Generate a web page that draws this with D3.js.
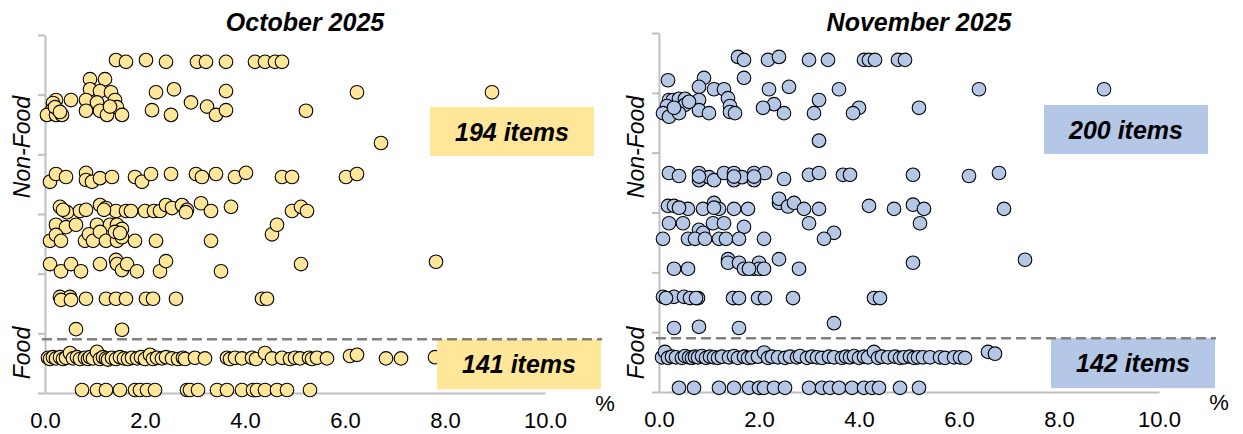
<!DOCTYPE html>
<html>
<head>
<meta charset="utf-8">
<script src="https://cdn.jsdelivr.net/npm/d3@7"></script>
<style>
  body { margin: 0; background: #fff; }
  text { font-family: Arial, "Liberation Sans", sans-serif; }
</style>
</head>
<body>
<svg id="chart" width="1243" height="434"></svg>
<script>
// Data: [inflation %, vertical position on the 0-6 strip axis]
const months = ['October 2025', 'November 2025']
const nonFoodCounts = [194, 200]
const foodCounts = [141, 142]
const xTicks = [0, 2, 4, 6, 8, 10]
const foodSplit = 0.9

const octNonFood = [
  [1.42,5.58],[1.62,5.55],[2.02,5.58],[2.42,5.55],[3.04,5.55],[3.22,5.55],[3.62,5.55],[4.2,5.55],[4.4,5.55],[4.6,5.55],[4.74,5.55],
  [0.9,5.26],[1.2,5.26],[0.9,5.09],[1.1,5.06],[1.32,5.04],[2.22,5.04],[2.58,5.09],[3.62,5.06],[6.24,5.04],[8.94,5.04],
  [0.22,4.91],[0.52,4.91],[0.82,4.91],[1.04,4.87],[1.4,4.91],[1.44,4.79],[0.16,4.86],[0.14,4.74],[0.04,4.66],[0.22,4.66],
  [0.34,4.66],[0.82,4.73],[1.1,4.73],[1.24,4.66],[1.54,4.66],[2.14,4.74],[2.52,4.66],[2.92,4.87],[3.24,4.8],[3.42,4.66],
  [3.62,4.74],[5.22,4.73],[0.2,4.79],[0.3,4.71],[1.3,4.8],
  [6.72,4.19],
  [0.1,3.54],[0.22,3.67],[0.42,3.62],[0.82,3.69],[0.82,3.57],[0.94,3.54],[1.1,3.6],[1.34,3.62],[1.8,3.62],[1.94,3.54],
  [2.12,3.67],[2.52,3.67],[3.02,3.67],[3.14,3.62],[3.42,3.67],[3.8,3.62],[4.02,3.69],[4.74,3.62],[4.94,3.62],[6.02,3.62],[6.24,3.67],
  [0.3,3.12],[0.44,3.03],[0.7,3.05],[0.82,3.07],[1.1,3.15],[1.22,3.1],[1.42,3.05],[1.62,3.05],[1.72,3.05],[2.0,3.05],
  [2.18,3.05],[2.3,3.05],[2.42,3.15],[2.54,3.1],[2.74,3.15],[2.84,3.07],[3.12,3.18],[3.32,3.05],[3.72,3.12],[4.94,3.05],
  [5.12,3.12],[5.24,3.05],[0.36,3.07],[1.18,3.07],[2.82,3.03],
  [0.22,2.82],[0.42,2.78],[0.62,2.82],[1.04,2.82],[1.3,2.82],[1.44,2.82],[1.54,2.75],[0.1,2.55],[0.22,2.65],[0.32,2.55],
  [0.8,2.55],[0.88,2.66],[0.96,2.55],[1.1,2.7],[1.22,2.55],[1.44,2.55],[1.54,2.61],[1.8,2.55],[2.22,2.55],[3.32,2.55],
  [4.54,2.66],[4.64,2.82],[1.4,2.7],[1.5,2.68],
  [0.1,2.16],[0.32,2.04],[0.52,2.16],[0.72,2.04],[1.1,2.16],[1.42,2.23],[1.44,2.16],[1.54,2.06],[1.64,2.16],[1.84,2.04],
  [2.3,2.04],[2.42,2.21],[3.52,2.04],[5.12,2.16],[7.82,2.2],
  [0.3,1.61],[0.5,1.61],[0.32,1.56],[0.52,1.56],[0.82,1.58],[1.22,1.58],[1.42,1.58],[1.62,1.58],[2.02,1.58],[2.16,1.58],
  [2.62,1.58],[4.34,1.58],[4.44,1.58],
  [0.62,1.07],[1.54,1.06]
]

const octFood = [
  [0.06,0.59],[0.1,0.57],[0.16,0.6],[0.22,0.58],[0.3,0.6],[0.36,0.57],[0.42,0.59],[0.5,0.67],[0.56,0.58],[0.64,0.6],
  [0.7,0.57],[0.8,0.59],[0.86,0.57],[0.9,0.6],[0.96,0.58],[1.04,0.69],[1.1,0.57],[1.16,0.6],[1.22,0.58],[1.26,0.56],
  [1.34,0.59],[1.42,0.57],[1.5,0.6],[1.58,0.58],[1.66,0.57],[1.74,0.59],[1.84,0.58],[1.92,0.6],[2.0,0.57],[2.1,0.64],
  [2.16,0.57],[2.24,0.59],[2.34,0.58],[2.42,0.6],[2.54,0.58],[2.66,0.57],[2.76,0.59],[2.8,0.57],[3.0,0.59],[3.2,0.58],
  [3.64,0.59],[3.7,0.57],[3.8,0.59],[3.94,0.58],[4.14,0.59],[4.22,0.57],[4.4,0.67],[4.54,0.58],[4.74,0.59],[4.9,0.57],
  [5.0,0.59],[5.1,0.58],[5.28,0.59],[5.34,0.57],[5.44,0.59],[5.64,0.58],[6.1,0.62],[6.24,0.64],[6.82,0.58],[7.12,0.58],[7.8,0.6],
  [0.74,0.05],[1.04,0.05],[1.22,0.05],[1.5,0.05],[1.8,0.05],[1.9,0.05],[2.04,0.05],[2.2,0.05],[2.84,0.05],[2.9,0.05],
  [3.06,0.05],[3.44,0.05],[3.64,0.05],[3.94,0.05],[4.16,0.05],[4.24,0.05],[4.4,0.05],[4.64,0.05],[4.84,0.05],[5.3,0.05]
]

const novNonFood = [
  [1.58,5.6],[1.7,5.55],[2.18,5.55],[2.4,5.6],[3.0,5.55],[3.38,5.55],[4.1,5.55],[4.2,5.55],[4.32,5.55],[4.78,5.55],[4.92,5.55],
  [0.18,5.21],[0.9,5.25],[1.7,5.25],[6.4,5.06],[8.9,5.06],[0.8,5.1],[1.1,5.06],[1.3,5.06],[2.2,5.06],[2.6,5.1],[3.6,5.06],
  [0.2,4.88],[0.28,4.88],[0.4,4.9],[0.52,4.9],[0.8,4.88],[1.38,4.91],[3.2,4.88],[2.3,4.81],[0.16,4.78],[0.52,4.8],
  [1.42,4.78],[2.08,4.75],[4.0,4.75],[5.2,4.75],[0.08,4.66],[0.2,4.6],[0.4,4.66],[0.8,4.71],[1.0,4.66],[1.42,4.68],
  [1.52,4.66],[2.5,4.66],[3.1,4.66],[3.88,4.66],[0.3,4.75],[0.6,4.85],
  [3.2,4.2],
  [0.2,3.66],[0.4,3.61],[0.8,3.66],[0.8,3.54],[1.0,3.59],[1.1,3.54],[1.3,3.66],[1.5,3.66],[1.5,3.54],[1.66,3.59],
  [1.9,3.66],[1.9,3.54],[2.12,3.66],[2.5,3.56],[3.0,3.63],[3.2,3.66],[3.68,3.63],[3.82,3.63],[5.08,3.63],[6.2,3.61],
  [6.8,3.66],[0.8,3.6],[1.9,3.6],[1.5,3.6],
  [0.18,3.11],[0.3,3.11],[0.58,3.06],[0.88,3.06],[1.1,3.16],[1.2,3.06],[1.5,3.06],[1.78,3.06],[2.4,3.16],[2.4,3.23],
  [2.58,3.1],[2.7,3.16],[2.9,3.06],[3.2,3.06],[4.2,3.11],[4.7,3.06],[5.08,3.13],[5.3,3.06],[6.9,3.06],[1.1,3.08],[0.4,3.08],
  [0.2,2.82],[0.48,2.82],[0.8,2.71],[0.88,2.66],[1.08,2.82],[1.3,2.82],[1.7,2.76],[3.0,2.82],[3.5,2.66],[3.3,2.56],
  [5.22,2.82],[0.08,2.56],[0.58,2.56],[0.72,2.56],[0.92,2.56],[1.2,2.56],[1.34,2.56],[1.6,2.56],[2.1,2.56],
  [0.3,2.06],[0.58,2.06],[1.38,2.22],[1.38,2.16],[1.6,2.16],[1.7,2.06],[1.9,2.06],[2.0,2.16],[2.0,2.06],[2.4,2.22],
  [2.8,2.06],[5.08,2.16],[7.32,2.21],[1.8,2.06],[2.1,2.06],
  [0.08,1.59],[0.3,1.59],[0.5,1.59],[0.78,1.57],[1.48,1.57],[1.6,1.57],[1.98,1.57],[2.12,1.57],[2.68,1.57],[4.3,1.57],
  [4.42,1.57],[0.14,1.57],[0.62,1.57],[0.74,1.57],
  [0.3,1.07],[0.8,1.09],[1.6,1.07],[3.5,1.15]
]

const novFood = [
  [0.06,0.58],[0.12,0.67],[0.18,0.57],[0.26,0.59],[0.34,0.58],[0.46,0.57],[0.52,0.6],[0.6,0.58],[0.66,0.57],[0.72,0.59],
  [0.78,0.58],[0.86,0.6],[0.94,0.57],[1.02,0.59],[1.1,0.58],[1.18,0.57],[1.26,0.59],[1.4,0.58],[1.5,0.6],[1.58,0.57],
  [1.7,0.59],[1.78,0.57],[1.86,0.58],[1.98,0.59],[2.1,0.66],[2.18,0.57],[2.26,0.59],[2.38,0.58],[2.52,0.57],[2.62,0.59],
  [2.76,0.58],[2.82,0.6],[2.96,0.57],[3.06,0.59],[3.16,0.58],[3.26,0.57],[3.4,0.59],[3.5,0.58],[3.66,0.57],[3.74,0.59],
  [3.82,0.58],[3.9,0.6],[4.0,0.57],[4.1,0.59],[4.18,0.58],[4.3,0.67],[4.38,0.57],[4.46,0.59],[4.58,0.58],[4.72,0.59],
  [4.82,0.57],[4.9,0.58],[5.02,0.59],[5.1,0.57],[5.18,0.58],[5.28,0.58],[5.42,0.58],[5.62,0.58],[5.72,0.57],[5.9,0.58],
  [6.02,0.58],[6.12,0.57],[6.58,0.67],[6.72,0.64],
  [0.4,0.07],[0.7,0.07],[1.2,0.07],[1.5,0.07],[1.8,0.07],[2.0,0.07],[2.1,0.07],[2.3,0.07],[2.52,0.07],[3.0,0.07],
  [3.26,0.07],[3.42,0.07],[3.6,0.07],[3.86,0.07],[4.1,0.07],[4.26,0.07],[4.4,0.07],[4.82,0.07],[5.2,0.07]
]

const fills = ['#ffe699', '#b4c7e7']

const panels = [
  {left: 45, top: 35, bottom: 393, nonFood: octNonFood, food: octFood},
  {left: 659, top: 33, bottom: 392, nonFood: novNonFood, food: novFood}
]

const svg = d3.select('#chart')

panels.forEach((p, i) => {
  const x = d3.scaleLinear().domain([0, 10]).range([p.left, p.left + 500])
  const y = d3.scaleLinear().domain([0, 6]).range([p.bottom, p.top])
  const g = svg.append('g')

  // axes
  const yAxis = g.append('g')
    .attr('transform', `translate(${p.left},0)`)
    .call(d3.axisLeft(y).ticks(6).tickSize(7).tickSizeOuter(0).tickFormat(''))
  yAxis.selectAll('path, line').attr('stroke', '#bfbfbf').attr('stroke-width', 2)

  const xAxis = g.append('g')
    .attr('transform', `translate(0,${p.bottom})`)
    .call(d3.axisBottom(x).tickValues(xTicks).tickSize(0).tickPadding(19).tickFormat(d3.format('.1f')))
  xAxis.attr('font-size', 22).attr('font-family', 'Arial, "Liberation Sans", sans-serif')
  xAxis.select('.domain').attr('stroke', '#bfbfbf').attr('stroke-width', 2)
  xAxis.selectAll('text').attr('fill', '#000')

  g.append('text')
    .attr('x', p.left + 560).attr('y', p.bottom + 18)
    .attr('text-anchor', 'middle').attr('font-size', 22)
    .text('%')

  // points
  g.selectAll('circle')
    .data(p.nonFood.concat(p.food))
    .enter()
    .append('circle')
    .attr('cx', d => x(d[0]))
    .attr('cy', d => y(d[1]))
    .attr('r', 6.8)
    .attr('fill', fills[i])
    .attr('stroke', '#000')
    .attr('stroke-width', 1.1)

  // count boxes
  const boxes = [
    {top: p.top + 72, dx: 385, h: 49, label: nonFoodCounts[i] + ' items'},
    {top: y(foodSplit), dx: 392, h: 50, label: foodCounts[i] + ' items'}
  ]
  boxes.forEach(b => {
    g.append('rect')
      .attr('x', p.left + b.dx).attr('y', b.top)
      .attr('width', 164).attr('height', b.h)
      .attr('fill', fills[i])
    g.append('text')
      .attr('x', p.left + b.dx + 82).attr('y', b.top + b.h / 2 + 9)
      .attr('text-anchor', 'middle')
      .attr('font-size', 25).attr('font-weight', 'bold').attr('font-style', 'italic')
      .text(b.label)
  })

  // food / non-food divider
  g.append('line')
    .attr('x1', p.left - 3).attr('x2', p.left + 557)
    .attr('y1', y(foodSplit)).attr('y2', y(foodSplit))
    .attr('stroke', '#808080').attr('stroke-width', 2.5)
    .attr('stroke-dasharray', '10,5')

  // titles
  g.append('text')
    .attr('x', p.left + 260).attr('y', 31)
    .attr('text-anchor', 'middle')
    .attr('font-size', 25).attr('font-weight', 'bold').attr('font-style', 'italic')
    .text(months[i])

  const groupLabels = [['Non-Food', 147], ['Food', 353]]
  groupLabels.forEach(([t, cy]) => {
    g.append('text')
      .attr('transform', `translate(${p.left - 15},${cy}) rotate(-90)`)
      .attr('text-anchor', 'middle')
      .attr('font-size', 23).attr('font-style', 'italic')
      .text(t)
  })
})
</script>
</body>
</html>
